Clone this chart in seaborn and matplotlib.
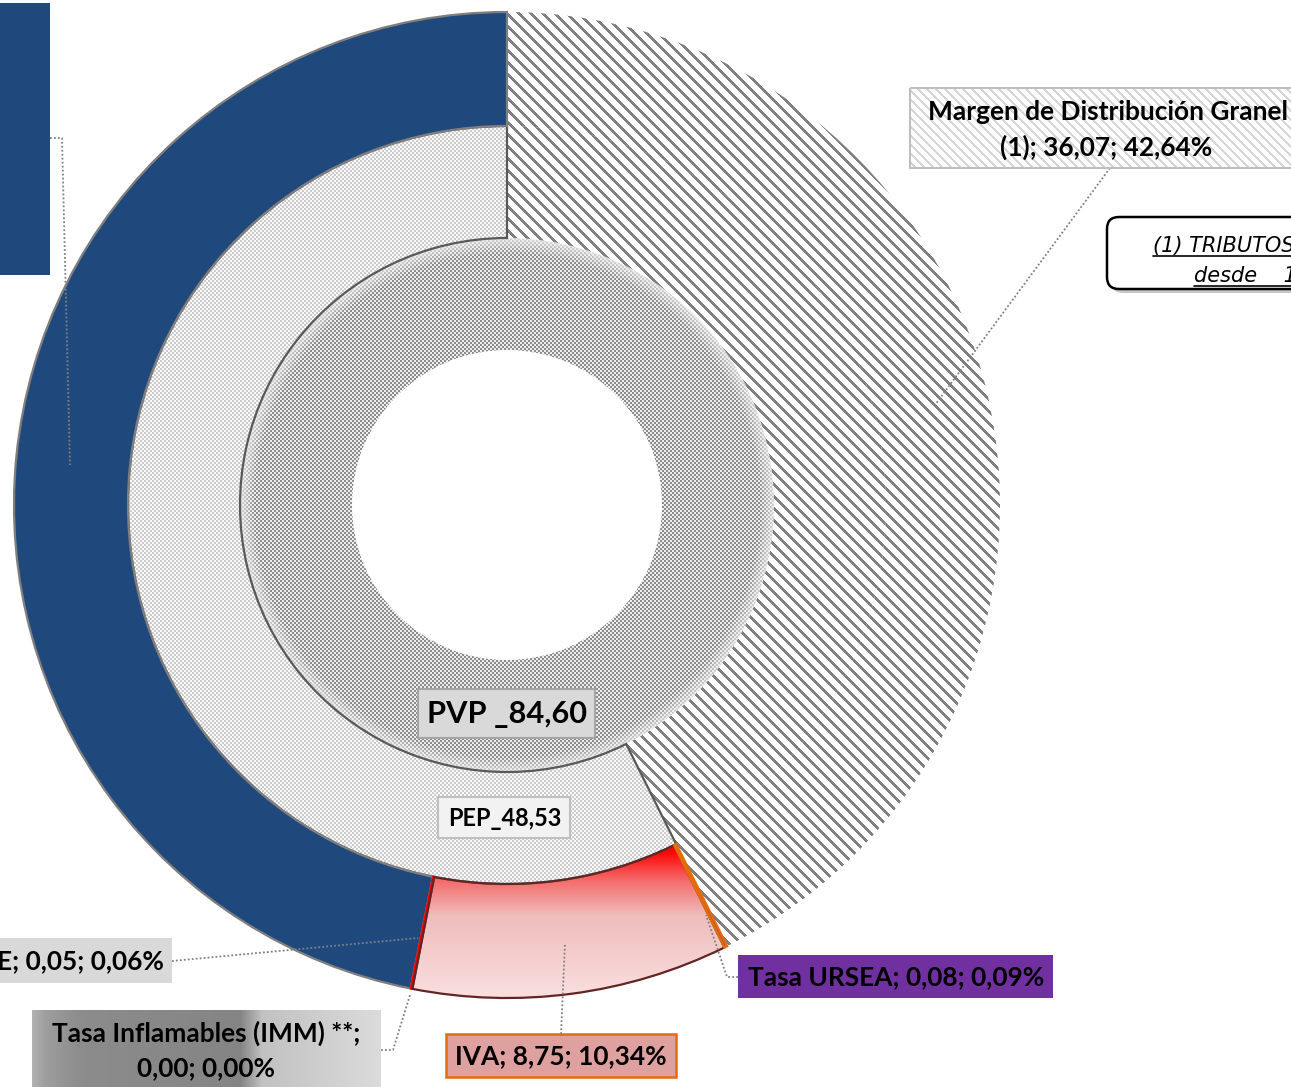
import numpy as np
import matplotlib
matplotlib.use("Agg")
import matplotlib.pyplot as plt
import seaborn as sns
from matplotlib import font_manager as fm
from matplotlib.patches import Rectangle, FancyBboxPatch

# ---------------- data ----------------
outer_labels = ["IMESI", "E", "Tasa Inflamables (IMM) **", "IVA", "Tasa URSEA",
                "Margen de Distribución Granel (1)"]
outer_values = [39.65, 0.05, 0.00, 8.75, 0.08, 36.07]
middle_labels = ["PEP", "Margen de Distribución Granel (1)"]
middle_values = [48.53, 36.07]
inner_labels = ["PVP"]
inner_values = [84.60]

sns.set_theme(style="white")


def pick_bold():
    for fam in ["Lato", "Roboto", "Noto Sans", "Open Sans", "Liberation Sans"]:
        try:
            p = fm.findfont(fm.FontProperties(family=fam, weight="bold"),
                            fallback_to_default=False)
        except Exception:
            continue
        if "bold" in p.lower():
            return fam
    return "DejaVu Sans"


FAM = pick_bold()
plt.rcParams["font.family"] = [FAM, "DejaVu Sans"]

W, H = 1291, 1087
CX, CY = 507, 505
R_OUT, R1, R2, R3 = 493, 379, 267, 155

fig = plt.figure(figsize=(W / 100, H / 100), dpi=100)
ax = fig.add_axes([0, 0, 1, 1])
ax.set_xlim(0, W)
ax.set_ylim(H, 0)
renderer = fig.canvas.get_renderer()

yy, xx = np.mgrid[0:H, 0:W]
rr = np.hypot(xx - CX, yy - CY)


def gray_img(v):
    v = v.astype(np.float32)
    return np.dstack([v, v, v])


stripes = ((xx - yy) % 12) < 4
checker = ((xx // 2 + yy // 2) % 2) == 0
tex_margen = gray_img(np.where(stripes, 0.50, 1.0))
tex_pep = gray_img(np.where(checker, 0.80, 0.98))
fade = np.clip((rr - 252) / 15.0, 0, 1)
on_c = 0.55 + 0.30 * fade
tex_pvp = gray_img(np.where(checker, on_c, 0.93))
tex_label_margen = gray_img(np.where(((xx - yy) % 9) < 3, 0.84, 1.0))

ys = np.arange(H)
rch = np.interp(ys, [850, 880, 915, 1000], [1.0, 0.96, 0.94, 0.98])
gch = np.interp(ys, [850, 880, 915, 1000], [0.0, 0.42, 0.74, 0.88])
tex_iva = np.dstack([np.repeat(rch[:, None], W, 1), np.repeat(gch[:, None], W, 1),
                     np.repeat(gch[:, None], W, 1)]).astype(np.float32)

xs = np.arange(W)
gv = np.interp(xs, [32, 45, 80, 240, 262, 381], [0.70, 0.62, 0.55, 0.52, 0.76, 0.86])
tex_inflam = np.dstack([np.repeat(gv[None, :], H, 0)] * 3).astype(np.float32)


def textured(patch, tex, z):
    im = ax.imshow(tex, extent=(0, W, H, 0), origin="upper",
                   interpolation="nearest", zorder=z)
    im.set_clip_path(patch)
    return im


# ---------------- rings ----------------
common = dict(startangle=-90, counterclock=False, center=(CX, CY))

w_in, _ = ax.pie(inner_values, radius=R2, wedgeprops=dict(width=R2 - R3, lw=0),
                 colors=["none"], **common)
w_mid, _ = ax.pie(middle_values, radius=R1, wedgeprops=dict(width=R1 - R2, lw=0),
                  colors=["none", "none"], **common)
outer_colors = ["#1F497D", "#FF0000", "#808080", "none", "#7030A0", "none"]
w_out, _ = ax.pie(outer_values, radius=R_OUT, wedgeprops=dict(width=R_OUT - R1, lw=0),
                  colors=outer_colors, **common)

textured(w_in[0], tex_pvp, 0.1)
textured(w_mid[0], tex_pep, 0.2)
textured(w_mid[1], tex_margen, 0.2)
textured(w_out[5], tex_margen, 0.3)
textured(w_out[3], tex_iva, 0.3)

w_mid[0].set(edgecolor="#595959", linewidth=1.6, zorder=1)
w_out[0].set(edgecolor="#7F7F7F", linewidth=1.6, zorder=2)
w_out[1].set(edgecolor="#FF0000", linewidth=1.4, zorder=2)
w_out[2].set(edgecolor="#808080", linewidth=0.8, zorder=2)
w_out[3].set(edgecolor="#632523", linewidth=1.6, zorder=2)
w_out[4].set(edgecolor="#E46C0A", linewidth=1.8, zorder=2)

# ---------------- leader lines ----------------
lead = dict(color="#808080", lw=1.3, ls=(0, (1, 1.2)), zorder=3)
ax.plot([50, 62, 70], [138, 138, 465], **lead)
ax.plot([1110, 935], [168, 405], **lead)
ax.plot([172, 418], [961, 938], **lead)
ax.plot([381, 393, 410], [1050, 1050, 995], **lead)
ax.plot([561, 565], [1034, 943], **lead)
ax.plot([738, 727, 706], [977, 977, 915], **lead)

# ---------------- labels ----------------
bold = dict(fontweight="bold", color="black", zorder=6, va="center")


def fit_size(s, target_w, base=18.0):
    t = ax.text(0, 0, s, fontsize=base, **bold)
    w = t.get_window_extent(renderer=renderer).width
    t.remove()
    return base * target_w / w


fs_main = fit_size("Tasa URSEA; 0,08; 0,09%", 297)
fs_pvp = fit_size("PVP _84,60", 160)
fs_pep = fit_size("PEP_48,53", 114)

# blue label box (its text lies outside the picture)
ax.add_patch(Rectangle((-20, 3), 70, 272, facecolor="#1F497D", edgecolor="none", zorder=5))

# Margen label
rm = Rectangle((910, 88), 400, 80, facecolor="none", edgecolor="#BFBFBF", lw=1.5, zorder=5)
ax.add_patch(rm)
textured(rm, tex_label_margen, 4.5)
ax.text(1108, 112, "Margen de Distribución Granel", ha="center", fontsize=fs_main, **bold)
ax.text(1106, 147, "(1); 36,07; 42,64%", ha="center", fontsize=fs_main, **bold)

# note box
ax.add_patch(FancyBboxPatch((1111, 221), 260, 72, boxstyle="round,pad=0,rounding_size=12",
                            facecolor="#A0A0A0", edgecolor="none", alpha=0.6, zorder=4))
ax.add_patch(FancyBboxPatch((1107, 217), 260, 72, boxstyle="round,pad=0,rounding_size=12",
                            facecolor="white", edgecolor="black", lw=1.8, zorder=5))
note = dict(fontstyle="italic", fontsize=15, color="black", zorder=6,
            family=["DejaVu Sans"], va="baseline", ha="left")
ax.text(1153, 252, "(1) TRIBUTOS", **note)
ax.text(1194, 282, "desde    1,", **note)
ax.plot([1153, 1295], [256, 256], color="black", lw=1.2, zorder=6)
ax.plot([1194, 1295], [286, 286], color="black", lw=1.2, zorder=6)

# PVP
ax.add_patch(Rectangle((418, 689), 177, 49, facecolor="#D9D9D9", edgecolor="#A6A6A6", lw=1.5, zorder=5))
ax.text(507, 714, "PVP _84,60", ha="center", fontsize=fs_pvp, **bold)
# PEP
ax.add_patch(Rectangle((438, 797), 132, 41, facecolor="#F2F2F2", edgecolor="#BFBFBF", lw=1.5, zorder=5))
ax.text(505, 818, "PEP_48,53", ha="center", fontsize=fs_pep, **bold)
# E
ax.add_patch(Rectangle((-20, 938), 192, 45, facecolor="#D9D9D9", edgecolor="none", zorder=5))
ax.text(164, 961, "E; 0,05; 0,06%", ha="right", fontsize=fs_main, **bold)
# Inflamables
ri = Rectangle((32, 1010), 349, 90, facecolor="none", edgecolor="none", zorder=5)
ax.add_patch(ri)
textured(ri, tex_inflam, 4.5)
ax.text(206, 1033, "Tasa Inflamables (IMM) **;", ha="center", fontsize=fs_main, **bold)
ax.text(206, 1068, "0,00; 0,00%", ha="center", fontsize=fs_main, **bold)
# IVA
ax.add_patch(Rectangle((446, 1034), 230, 43, facecolor="#DFA19F", edgecolor="#E46C0A", lw=1.8, zorder=5))
ax.text(561, 1056, "IVA; 8,75; 10,34%", ha="center", fontsize=fs_main, **bold)
# URSEA
ax.add_patch(Rectangle((738, 955), 315, 43, facecolor="#7030A0", edgecolor="none", zorder=5))
ax.text(896, 977, "Tasa URSEA; 0,08; 0,09%", ha="center", fontsize=fs_main, **bold)

ax.set_xlim(0, W)
ax.set_ylim(H, 0)
ax.set_aspect("auto")
ax.axis("off")

fig.savefig("out.png", dpi=100, facecolor="white")
